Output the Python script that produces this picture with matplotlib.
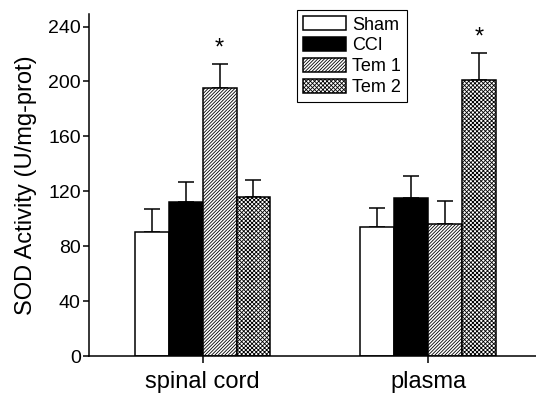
import numpy as np
import matplotlib.pyplot as plt

plt.rcParams['font.family'] = ['Liberation Sans', 'DejaVu Sans']
plt.rcParams['hatch.linewidth'] = 0.6

groups = ['spinal cord', 'plasma']
series = ['Sham', 'CCI', 'Tem 1', 'Tem 2']
means = {
    'Sham': [90, 94],
    'CCI': [112, 115],
    'Tem 1': [195, 96],
    'Tem 2': [116, 201],
}
errs = {
    'Sham': [17, 14],
    'CCI': [15, 16],
    'Tem 1': [18, 17],
    'Tem 2': [12, 20],
}
# significant bars (series, group index)
stars = [('Tem 1', 0), ('Tem 2', 1)]

colors = {'Sham': 'white', 'CCI': 'black', 'Tem 1': 'white', 'Tem 2': 'white'}
hatches = {'Sham': None, 'CCI': None, 'Tem 1': '//////////', 'Tem 2': 'xxxxxxxx'}

fig = plt.figure(figsize=(5.36, 3.93), dpi=100)
ax = fig.add_axes([0.166, 0.094, 0.834, 0.870])

x = np.arange(len(groups))
w = 0.15
for i, s in enumerate(series):
    pos = x + (i - 1.5) * w
    ax.bar(pos, means[s], w, color=colors[s], edgecolor='black', linewidth=1.1,
           hatch=hatches[s], label=s, zorder=2)
    ax.errorbar(pos, means[s], yerr=[np.zeros(len(groups)), errs[s]], fmt='none',
                ecolor='black', elinewidth=1.1, capsize=5.8, capthick=1.1, zorder=1)

for s, g in stars:
    i = series.index(s)
    ax.text(x[g] + (i - 1.5) * w, means[s][g] + errs[s][g] + 3, '*',
            ha='center', va='bottom', fontsize=17)

ax.set_xlim(-0.505, 1.479)
ax.set_ylim(0, 249)
ax.set_yticks([0, 40, 80, 120, 160, 200, 240])
ax.set_xticks(x)
ax.set_xticklabels(groups, fontsize=17)
ax.tick_params(axis='y', labelsize=14, direction='out', length=4, width=1.1, pad=2)
ax.tick_params(axis='x', direction='out', length=5, width=1.1, pad=6)
ax.set_ylabel('SOD Activity (U/mg-prot)', fontsize=17, labelpad=8)
for sp in ['top', 'right']:
    ax.spines[sp].set_visible(False)
for sp in ['left', 'bottom']:
    ax.spines[sp].set_linewidth(1.1)

leg = ax.legend(loc='upper left', bbox_to_anchor=(0.465, 1.012), fontsize=13,
                fancybox=False, edgecolor='black', framealpha=1,
                handlelength=2.4, handleheight=0.8, handletextpad=0.3,
                labelspacing=0.2, borderpad=0.35, borderaxespad=0)
leg.get_frame().set_linewidth(0.8)

fig.savefig('out.png', dpi=100)
